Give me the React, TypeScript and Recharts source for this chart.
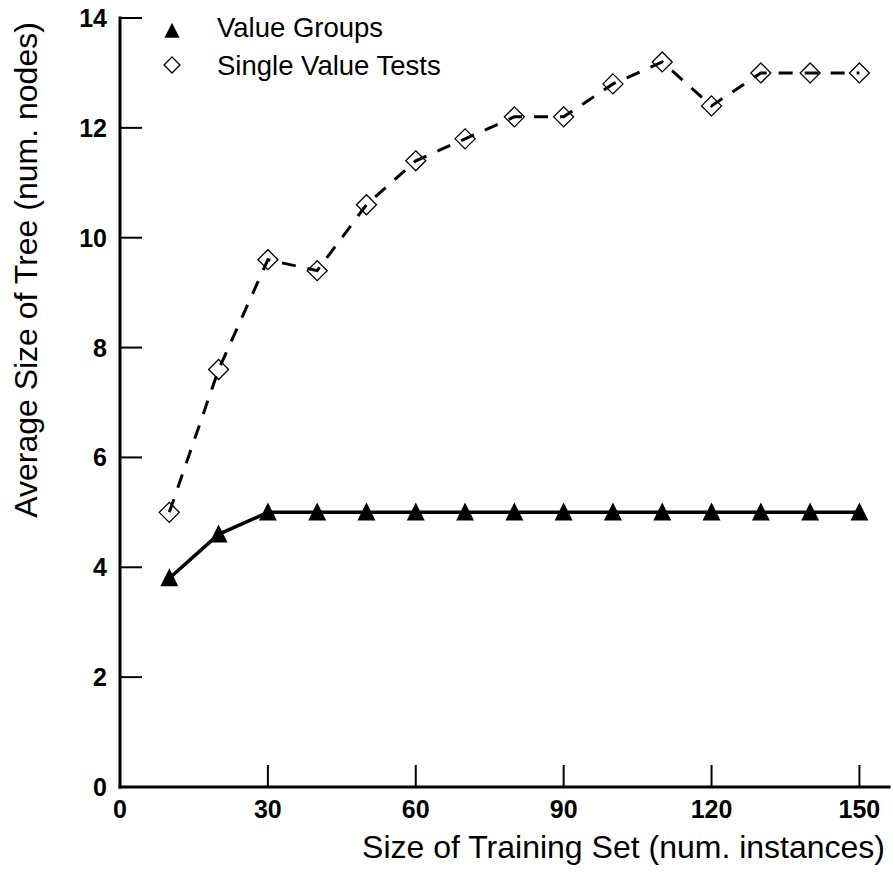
import React from "react";
import { LineChart, Line, XAxis, YAxis } from "recharts";

// training set sizes (num. instances)
const TRAINING_SIZES = [10, 20, 30, 40, 50, 60, 70, 80, 90, 100, 110, 120, 130, 140, 150];
// average tree size (num. nodes)
const VALUE_GROUPS = [3.8, 4.6, 5.0, 5.0, 5.0, 5.0, 5.0, 5.0, 5.0, 5.0, 5.0, 5.0, 5.0, 5.0, 5.0];
const SINGLE_VALUE_TESTS = [5.0, 7.6, 9.6, 9.4, 10.6, 11.4, 11.8, 12.2, 12.2, 12.8, 13.2, 12.4, 13.0, 13.0, 13.0];

const X_TICKS = [0, 30, 60, 90, 120, 150];
const Y_TICKS = [0, 2, 4, 6, 8, 10, 12, 14];

const data = TRAINING_SIZES.map((n, i) => ({
  n,
  groups: VALUE_GROUPS[i],
  single: SINGLE_VALUE_TESTS[i],
}));

const FONT = "'Liberation Sans', Arial, Helvetica, sans-serif";

const Triangle = ({ cx, cy, size = 9 }: { cx: number; cy: number; size?: number }) => (
  <polygon
    points={`${cx},${cy - size * 1.1} ${cx - size},${cy + size * 0.9} ${cx + size},${cy + size * 0.9}`}
    fill="#000"
  />
);

const Diamond = ({ cx, cy, size = 10 }: { cx: number; cy: number; size?: number }) => (
  <polygon
    points={`${cx},${cy - size} ${cx + size},${cy} ${cx},${cy + size} ${cx - size},${cy}`}
    fill="none"
    stroke="#000"
    strokeWidth={1.3}
  />
);

function XTick(props: any) {
  const { x, y, payload } = props;
  return (
    <g>
      <line x1={x} y1={y} x2={x} y2={y - 22} stroke="#000" strokeWidth={2} />
      <text x={x} y={y + 31} textAnchor="middle" fontFamily={FONT} fontWeight="bold" fontSize={25} fill="#000">
        {payload.value}
      </text>
    </g>
  );
}

function YTick(props: any) {
  const { x, y, payload } = props;
  return (
    <g>
      <line x1={x} y1={y} x2={x + 22} y2={y} stroke="#000" strokeWidth={2} />
      <text x={x - 13} y={y + 9} textAnchor="end" fontFamily={FONT} fontWeight="bold" fontSize={25} fill="#000">
        {payload.value}
      </text>
    </g>
  );
}

export default function App() {
  return (
    <div style={{ position: "absolute", left: 0, top: 0, width: 893, height: 873, background: "#fff" }}>
      <LineChart width={893} height={873} data={data} margin={{ top: 18, right: 4, left: 0, bottom: 0 }}>
        <XAxis
          dataKey="n"
          type="number"
          domain={[0, 156]}
          ticks={X_TICKS}
          tick={<XTick />}
          tickSize={0}
          tickMargin={0}
          tickLine={false}
          height={86}
          axisLine={{ stroke: "#000", strokeWidth: 3, strokeLinecap: "square" }}
        />
        <YAxis
          type="number"
          domain={[0, 14]}
          ticks={Y_TICKS}
          tick={<YTick />}
          tickSize={0}
          tickMargin={0}
          tickLine={false}
          width={120}
          axisLine={{ stroke: "#000", strokeWidth: 3, strokeLinecap: "square" }}
        />
        <Line
          dataKey="groups"
          name="Value Groups"
          stroke="#000"
          strokeWidth={3.5}
          isAnimationActive={false}
          dot={(p: any) => <Triangle key={`t${p.index}`} cx={p.cx} cy={p.cy} />}
          activeDot={false}
        />
        <Line
          dataKey="single"
          name="Single Value Tests"
          stroke="#000"
          strokeWidth={3}
          strokeDasharray="14 12"
          isAnimationActive={false}
          dot={(p: any) => <Diamond key={`d${p.index}`} cx={p.cx} cy={p.cy} />}
          activeDot={false}
        />
      </LineChart>
      <svg
        width={893}
        height={873}
        style={{ position: "absolute", left: 0, top: 0, pointerEvents: "none" }}
      >
        {/* legend */}
        <Triangle cx={172} cy={31} size={7.5} />
        <text x={217} y={37} fontFamily={FONT} fontSize={27.5} fill="#000">
          Value Groups
        </text>
        <Diamond cx={172} cy={65} size={8} />
        <text x={217} y={75} fontFamily={FONT} fontSize={27.5} fill="#000">
          Single Value Tests
        </text>
        {/* axis titles */}
        <text
          x={37}
          y={270}
          transform="rotate(-90 37 270)"
          textAnchor="middle"
          fontFamily={FONT}
          fontSize={32}
          fill="#000"
        >
          Average Size of Tree (num. nodes)
        </text>
        <text x={885} y={858} textAnchor="end" fontFamily={FONT} fontSize={32} fill="#000">
          Size of Training Set (num. instances)
        </text>
      </svg>
    </div>
  );
}
